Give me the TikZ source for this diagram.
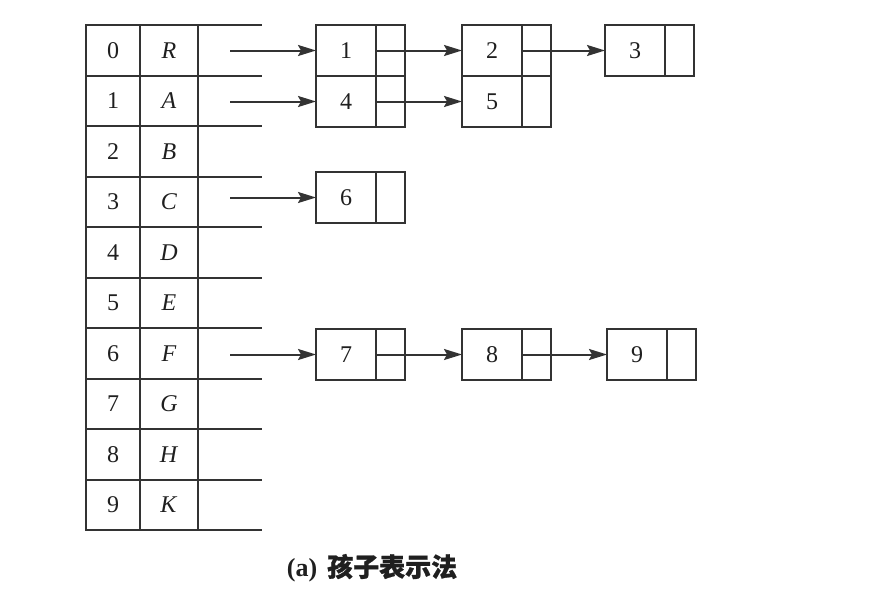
\documentclass[tikz,border=0pt]{standalone}
\usepackage{fontspec}
\setmainfont{Liberation Serif}
\newfontfamily\cjk[FakeBold=1]{Noto Sans CJK SC}
\usetikzlibrary{arrows.meta}
\definecolor{lc}{HTML}{333333}
\begin{document}
\begin{tikzpicture}[x=1pt,y=-1pt,
  every node/.style={font=\fontsize{24}{28}\selectfont, text=black!88},
  cellbox/.style={draw=lc, line width=2pt, inner sep=0pt, outer sep=0pt, anchor=north west},
  idxcell/.style={cellbox, minimum width=54pt},
  ltcell/.style={cellbox, minimum width=58pt},
  dbox/.style={cellbox, minimum width=60pt, minimum height=51pt},
  pbox/.style={cellbox, minimum width=29pt, minimum height=51pt},
  tabline/.style={draw=lc, line width=2pt},
  conn/.style={draw=lc, line width=2pt, -{Stealth[length=18pt,width=11pt,inset=3pt]}}]
\useasboundingbox (0,0) rectangle (890,608);
\fill[white] (0,0) rectangle (890,608);
% table
\foreach \i/\l in {0/R,1/A,2/B,3/C,4/D,5/E,6/F,7/G,8/H,9/K} {
  \pgfmathsetmacro\ytop{25+round(50.5*\i)}
  \pgfmathsetmacro\hh{25+round(50.5*(\i+1))-\ytop}
  \node[idxcell, minimum height=\hh pt] (idx\i) at (86,\ytop) {\i};
  \node[ltcell, minimum height=\hh pt] (lt\i) at (140,\ytop) {\textit{\l}};
  \draw[tabline] (lt\i.north east) -- ++(64,0);
}
\draw[tabline] (lt9.south east) -- ++(64,0);
% list boxes
\node[dbox] (d1) at (316,25) {1}; \node[pbox] (p1) at (376,25) {};
\node[dbox] (d4) at (316,76) {4}; \node[pbox] (p4) at (376,76) {};
\node[dbox] (d2) at (462,25) {2}; \node[pbox] (p2) at (522,25) {};
\node[dbox] (d5) at (462,76) {5}; \node[pbox] (p5) at (522,76) {};
\node[dbox] (d3) at (605,25) {3}; \node[pbox] (p3) at (665,25) {};
\node[dbox] (d6) at (316,172) {6}; \node[pbox] (p6) at (376,172) {};
\node[dbox] (d7) at (316,329) {7}; \node[pbox] (p7) at (376,329) {};
\node[dbox] (d8) at (462,329) {8}; \node[pbox] (p8) at (522,329) {};
\node[dbox] (d9) at (607,329) {9}; \node[pbox] (p9) at (667,329) {};
% arrow start points
\coordinate (ax) at (230,0);
\coordinate (s0) at (d1.west -| ax);
\coordinate (s1) at (d4.west -| ax);
\coordinate (s3) at (d6.west -| ax);
\coordinate (s6) at (d7.west -| ax);
% connectors
\draw[conn] (s0) -- (d1.west);
\draw[conn] (s1) -- (d4.west);
\draw[conn] (s3) -- (d6.west);
\draw[conn] (s6) -- (d7.west);
\draw[conn] (p1.west) -- (d2.west);
\draw[conn] (p4.west) -- (d5.west);
\draw[conn] (p2.west) -- (d3.west);
\draw[conn] (p7.west) -- (d8.west);
\draw[conn] (p8.west) -- (d9.west);
% caption
\node[font=\fontsize{26}{30}\selectfont\bfseries] (cap) at (372,568) {(a)\hspace{10pt}{\cjk 孩子表示法}};
\end{tikzpicture}
\end{document}
